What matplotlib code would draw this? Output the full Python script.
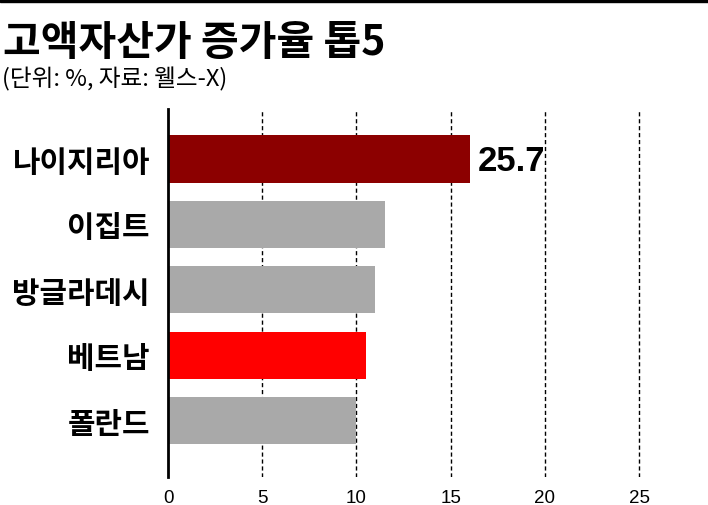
import numpy as np
import matplotlib
matplotlib.use('Agg')
import matplotlib.pyplot as plt
from matplotlib.patches import Rectangle

plt.rcParams['font.family'] = ['Noto Sans CJK KR', 'DejaVu Sans']
num_font = ['Liberation Sans Narrow', 'Liberation Sans', 'DejaVu Sans']

countries = ['나이지리아', '이집트', '방글라데시', '베트남', '폴란드']
values = [25.7, 11.5, 11.0, 10.5, 10.0]
bar_cap = 16.0  # 나이지리아 막대는 잘려서 표시됨
colors = ['#8c0000', '#a9a9a9', '#a9a9a9', '#ff0000', '#a9a9a9']
xticks = [0, 5, 10, 15, 20, 25]

W, H = 708, 506
fig = plt.figure(figsize=(W / 100, H / 100), dpi=100)
ax = fig.add_axes([168 / W, 1 - 478 / H, (W - 168) / W, (478 - 110) / H])

y = np.arange(len(countries))
widths = np.minimum(values, bar_cap)
ax.barh(y, widths, height=0.72, color=colors, zorder=2)

ax.set_xlim(0, 28.65)
ax.set_ylim(4.86, -0.765)
ax.set_yticks(y)
ax.set_yticklabels(countries, fontsize=21.5, fontweight='heavy')
ax.set_xticks(xticks)
ax.set_xticklabels([str(t) for t in xticks], fontsize=13.5, family=num_font)
ax.tick_params(axis='y', length=0, pad=13)
ax.tick_params(axis='x', length=0, pad=9)

for t in xticks[1:]:
    ax.axvline(t, color='black', lw=1, ls=(0, (3, 2)), zorder=1)

for s in ['top', 'right', 'bottom']:
    ax.spines[s].set_visible(False)
ax.spines['left'].set_linewidth(2)

ax.text(widths[0] + 0.45, y[0] + 0.02, f'{values[0]}', va='center', ha='left',
        fontsize=25, fontweight='bold', family=num_font)

fig.add_artist(Rectangle((0, 1 - 3 / H), 1, 3 / H, transform=fig.transFigure,
                         color='black'))
fig.text(3 / W, 1 - 43 / H, '고액자산가 증가율 톱5', fontsize=29.5,
         fontweight='heavy', va='center', ha='left')
fig.text(2 / W, 1 - 79 / H, '(단위: %, 자료: 웰스-X)', fontsize=17,
         fontweight='medium', va='center', ha='left')

fig.savefig('out.png', dpi=100)
